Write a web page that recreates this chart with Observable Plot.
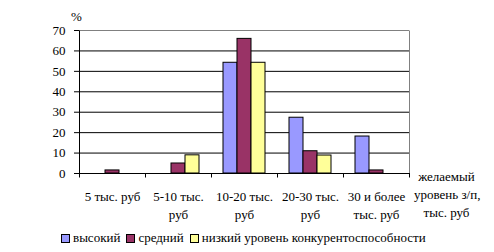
<!DOCTYPE html>
<html><head><meta charset="utf-8">
<script src="https://cdn.jsdelivr.net/npm/d3@7"></script>
<script src="https://cdn.jsdelivr.net/npm/@observablehq/plot@0.6"></script>
<style>
body{margin:0;background:#fff;font-family:"Liberation Serif","Times New Roman",Tinos,"DejaVu Serif",serif;color:#000;}
#wrap{position:relative;width:494px;height:252px;overflow:hidden;}
#wrap svg{position:absolute;left:0;top:0;}
.lbl{position:absolute;font-size:13px;line-height:18px;white-space:nowrap;}
#legend{position:absolute;left:61px;top:230px;display:flex;align-items:center;font-size:13px;white-space:nowrap;}
#legend .sw{display:inline-block;width:7px;height:7px;border:1px solid #000;margin-right:3px;}
#legend .it{display:flex;align-items:center;margin-right:6px;}
</style></head><body>
<div id="wrap"></div>
<script>
const categories = ["5 тыс. руб","5-10 тыс. руб","10-20 тыс. руб","20-30 тыс. руб","30 и более тыс. руб"];
const categoryLabels = ["5 тыс. руб","5-10 тыс.\nруб","10-20 тыс.\nруб","20-30 тыс.\nруб","30 и более\nтыс. руб"];
const series = ["высокий","средний","низкий уровень конкурентоспособности"];
const high = [0, 0, 54.2, 27.3, 18.1];
const mid = [1.5, 4.9, 65.9, 10.9, 1.5];
const low = [0, 8.9, 54.2, 8.8, 0];
const colors = ["#9999FF","#993366","#FFFF99"];
const yTicks = [0,10,20,30,40,50,60,70];
const gridTicks = [10,20,30,40,50,60];
const yUnit = "%";
const xTitle = "желаемый\nуровень з/п,\nтыс. руб";

const FONT = '"Liberation Serif", "Times New Roman", Tinos, "DejaVu Serif", serif';
const values = [high, mid, low];
const data = categories.flatMap((c,i)=>series.map((s,j)=>({cat:c, ser:s, v:values[j][i]}))).filter(d=>d.v>0);
const labelOf = new Map(categories.map((c,i)=>[c,categoryLabels[i]]));

const chart = Plot.plot({
  width:494, height:228,
  marginLeft:77, marginRight:83, marginTop:30, marginBottom:55,
  style:{fontFamily:FONT, fontSize:"13px", background:"white", color:"black"},
  fx:{domain:categories, padding:0, label:null, axis:null},
  x:{domain:series, paddingInner:0, paddingOuter:0.733, axis:null},
  y:{domain:[0,70], label:null, axis:null},
  color:{domain:series, range:colors},
  marks:[
    Plot.ruleY(gridTicks, {stroke:"black", strokeOpacity:1}),
    Plot.ruleY([70], {stroke:"#808080"}),
    Plot.ruleY([0], {stroke:"black"}),
    Plot.barY(data, {fx:"cat", x:"ser", y:"v", fill:"ser", stroke:"black", strokeWidth:1}),
    Plot.axisY({ticks:yTicks, tickSize:5, tickPadding:9, label:null, fontSize:13, anchor:"left"}),
    Plot.axisFx({anchor:"bottom", tickSize:0, tickPadding:15, label:null, fontSize:13, lineHeight:1.38, tickFormat:d=>labelOf.get(d)})
  ]
});

const wrap = document.getElementById("wrap");
wrap.appendChild(chart);

// axis lines and boundary ticks from the library's scales
const fx = chart.scale("fx"), y = chart.scale("y");
const svg = d3.select(chart);
const x0 = fx.apply(categories[0]);
const x1 = fx.apply(categories[categories.length-1]) + fx.bandwidth;
const yb = y.apply(0), yt = y.apply(70);
const g = svg.append("g").attr("stroke-width",1).attr("fill","none");
g.append("line").attr("x1",x1+0.5).attr("x2",x1+0.5).attr("y1",yt+0.5).attr("y2",yb).attr("stroke","#808080");
g.append("line").attr("x1",x0+0.5).attr("x2",x0+0.5).attr("y1",yt+0.5).attr("y2",yb+0.5).attr("stroke","black");
const bounds = categories.map(c=>fx.apply(c)).concat([x1]);
bounds.forEach(b=>g.append("line").attr("x1",b+0.5).attr("x2",b+0.5).attr("y1",yb).attr("y2",yb+4.5).attr("stroke","black"));

// "%" unit label
const unit = document.createElement("div");
unit.className="lbl"; unit.textContent=yUnit;
unit.style.left=(x0-8)+"px"; unit.style.top=(yt-22)+"px";
wrap.appendChild(unit);

// x title
const xt = document.createElement("div");
xt.className="lbl"; xt.style.whiteSpace="pre"; xt.style.textAlign="center";
xt.textContent=xTitle;
xt.style.left=(x1+5)+"px"; xt.style.top=(yb-5)+"px"; xt.style.width="65px";
wrap.appendChild(xt);

// legend
const lg = document.createElement("div"); lg.id="legend";
series.forEach((s,i)=>{
  const it=document.createElement("span"); it.className="it";
  const sw=document.createElement("span"); sw.className="sw"; sw.style.background=colors[i];
  const t=document.createElement("span"); t.textContent=s;
  it.appendChild(sw); it.appendChild(t); lg.appendChild(it);
});
wrap.appendChild(lg);
</script>
</body></html>
